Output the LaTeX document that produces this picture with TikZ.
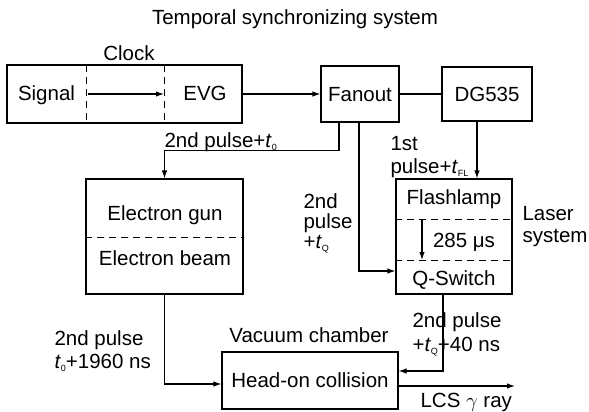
\documentclass[tikz,border=0pt]{standalone}
\usepackage{fontspec}
\setmainfont{Liberation Sans}
\usetikzlibrary{positioning}
\usetikzlibrary{arrows.meta}

\newcommand{\tdel}[1]{\textit{t}\raisebox{-3pt}{\fontsize{9}{9}\selectfont #1}}

\begin{document}
\begin{tikzpicture}[x=1pt, y=-1pt, line width=1.1pt, font=\fontsize{20.5}{23}\selectfont,
		box/.style={draw, inner sep=0pt},
		lbl/.style={inner sep=0pt, text height=14.5pt, text depth=0pt},
		lines/.style={inner sep=0pt, align=left, anchor=north west},
		sep/.style={line width=0.9pt, dash pattern=on 7pt off 5pt}]
	\useasboundingbox (0,0) rectangle (589,412);
	\node[lbl] (title) at (295,17) {Temporal synchronizing system};
	\node[lbl] (clk) at (129,53) {Clock};
	\node[box, minimum width=235pt, minimum height=58pt] (clock) at (124.5,94) {};
	\node[lbl] (signal) at (46.5,93) {Signal};
	\node[lbl] (evg) at (205,93) {EVG};
	\node[box, lbl, minimum width=78pt, minimum height=56pt] (fanout) at (360,94) {Fanout};
	\node[box, lbl, minimum width=90pt, minimum height=54pt] (dg) at (487,94) {DG535};
	\node[box, minimum width=157pt, minimum height=115pt] (egun) at (164.5,236.5) {};
	\node[lbl] (gun) at (165,213) {Electron gun};
	\node[lbl] (beam) at (165,258) {Electron beam};
	\node[box, minimum width=116pt, minimum height=115pt] (laser) at (454,236.5) {};
	\node[lbl] (flash) at (454,197) {Flashlamp};
	\node[lbl] (delay) at (464,240) {285 μs};
	\node[lbl] (qsw) at (454,278) {Q-Switch};
	\node[box, lbl, minimum width=176pt, minimum height=57pt] (headon) at (310,380.5) {Head-on collision};
	\node[lbl] (vac) at (309,335) {Vacuum chamber};
	\node[lbl, anchor=west] (p0) at (164,140) {2nd pulse+\tdel{0}};
	\node[lines] (pfl) at (390,136) {1st\\pulse+\tdel{FL}};
	\node[lines, font=\fontsize{20.5}{20}\selectfont] (pq) at (303,193) {2nd\\pulse\\+\tdel{Q}};
	\node[lines, font=\fontsize{20.5}{22}\selectfont] (lsys) at (522,206) {Laser\\system};
	\node[lines] (pe) at (54,330) {2nd pulse\\\tdel{0}+1960 ns};
	\node[lines, font=\fontsize{20.5}{24}\selectfont] (pl) at (412,312) {2nd pulse\\+\tdel{Q}+40 ns};
	\node[lbl, anchor=west] (lcs) at (420,400) {LCS $\gamma$ ray};

	\coordinate (dA) at (86,65);
	\coordinate (dB) at (164,65);
	\coordinate (pumpA) at (422,219);
	\coordinate (pumpB) at (422,260);
	\coordinate (dgout) at ([xshift=-10pt]dg.south);
	\coordinate (ray) at (515,386);
	\draw[sep] (dA) -- (dA |- clock.south);
	\draw[sep] (dB) -- (dB |- clock.south);
	\draw[sep] (egun.west |- 0,237) -- (egun.east |- 0,237);
	\draw[sep] (laser.west |- pumpA) -- (laser.east |- pumpA);
	\draw[sep] (laser.west |- pumpB) -- (laser.east |- pumpB);
	\draw (fanout.east) -- (fanout.east -| dg.west);
	\begin{scope}[-{Latex[length=8pt, width=5.5pt]}]
		\draw ([xshift=2pt]dA |- clock.center) -- (dB |- clock.center);
		\draw (clock.east) -- (clock.east -| fanout.west);
		\draw ([xshift=-21pt]fanout.south) -- ++(0,28) -| (egun.north);
		\draw ([xshift=-1pt]fanout.south) |- (laser.west |- 0,271);
		\draw (dgout) -- (dgout |- laser.north);
		\draw (pumpA) -- (pumpB);
		\draw (egun.south) |- (headon.west |- 0,384);
		\draw ([xshift=-11pt]laser.south) |- (headon.east |- 0,371);
		\draw (headon.east |- ray) -- (ray);
	\end{scope}
\end{tikzpicture}
\end{document}
